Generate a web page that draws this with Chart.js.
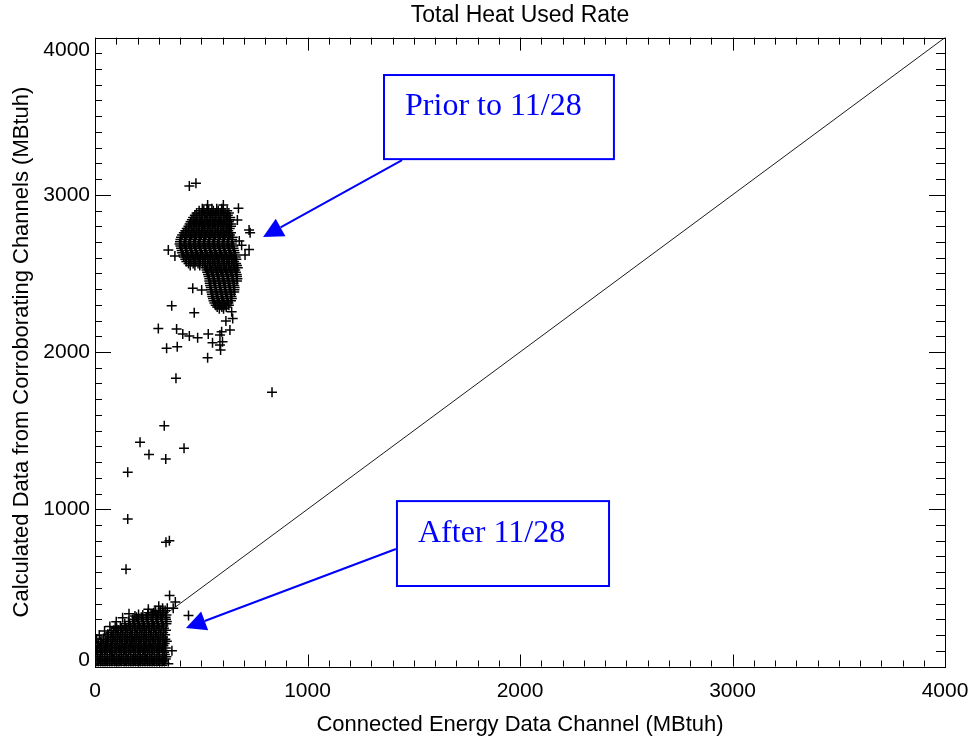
<!DOCTYPE html>
<html>
<head>
<meta charset="utf-8">
<script src="https://cdn.jsdelivr.net/npm/chart.js@4.4.1/dist/chart.umd.min.js"></script>
<style>
html,body{margin:0;padding:0;background:#ffffff;}
#wrap{width:971px;height:736px;position:relative;}
</style>
</head>
<body>
<div id="wrap"><canvas id="c" width="971" height="736"></canvas></div>
<script>
// ---------------- DATA (MBtuh) ----------------
const chartTitle = 'Total Heat Used Rate';
const xTitle = 'Connected Energy Data Channel (MBtuh)';
const yTitle = 'Calculated Data from Corroborating Channels (MBtuh)';
const xTicks = [0, 1000, 2000, 3000, 4000];
const yTicks = [0, 1000, 2000, 3000, 4000];

// dense cluster before 11/28, rows of [y, [x...]]
const priorClusterRows = [
  [2912, [505, 527, 550, 573, 596]],
  [2898, [490, 512, 535, 557, 580, 602, 622]],
  [2884, [478, 500, 522, 545, 567, 590, 612, 630]],
  [2870, [470, 492, 515, 537, 560, 582, 605, 625]],
  [2856, [462, 484, 507, 529, 552, 574, 597, 619, 636]],
  [2842, [456, 478, 500, 523, 545, 568, 590, 612, 633]],
  [2828, [450, 473, 495, 517, 540, 562, 585, 607, 630]],
  [2814, [445, 467, 490, 512, 535, 557, 580, 602, 625, 642]],
  [2800, [440, 462, 485, 507, 530, 552, 575, 597, 620, 640]],
  [2786, [432, 455, 477, 500, 522, 545, 567, 590, 612, 634]],
  [2772, [425, 447, 470, 492, 515, 537, 560, 582, 605, 627]],
  [2758, [418, 440, 462, 485, 507, 530, 552, 575, 597, 620, 640]],
  [2744, [410, 432, 455, 477, 500, 522, 545, 567, 590, 612, 635]],
  [2730, [405, 428, 450, 473, 495, 518, 540, 563, 585, 608, 630, 648]],
  [2716, [402, 425, 447, 470, 492, 515, 537, 560, 582, 605, 627, 645]],
  [2702, [400, 422, 445, 467, 490, 512, 535, 557, 580, 602, 625, 646]],
  [2688, [398, 420, 442, 465, 487, 510, 532, 555, 577, 600, 622, 644]],
  [2674, [402, 425, 447, 470, 492, 515, 537, 560, 582, 605, 627, 650]],
  [2660, [405, 427, 450, 472, 495, 517, 540, 562, 585, 607, 630, 652]],
  [2646, [408, 430, 453, 475, 498, 520, 543, 565, 588, 610, 633, 655]],
  [2632, [410, 432, 455, 477, 500, 522, 545, 567, 590, 612, 635, 657]],
  [2618, [415, 437, 460, 482, 505, 527, 550, 572, 595, 617, 640, 660]],
  [2604, [418, 440, 463, 485, 508, 530, 553, 575, 598, 620, 643, 662]],
  [2590, [425, 447, 470, 492, 515, 537, 560, 582, 605, 627, 650, 665]],
  [2576, [430, 452, 475, 497, 520, 542, 565, 587, 610, 632, 655]],
  [2563, [440, 462, 485, 507, 530, 552, 575, 597, 620, 642, 664]],
  [2550, [448, 470, 493, 515, 538, 560, 583, 605, 628, 650, 668]],
  [2536, [520, 542, 565, 587, 610, 632, 655, 672]],
  [2522, [525, 547, 570, 592, 615, 637, 660]],
  [2508, [528, 550, 573, 595, 618, 640, 663]],
  [2494, [532, 555, 577, 600, 622, 645, 667]],
  [2480, [535, 557, 580, 602, 625, 647, 668]],
  [2466, [538, 560, 583, 605, 628, 650, 670]],
  [2452, [538, 560, 583, 605, 628, 650, 668]],
  [2438, [540, 563, 585, 608, 630, 652]],
  [2424, [542, 565, 587, 610, 632, 655]],
  [2410, [545, 567, 590, 612, 635, 657]],
  [2396, [546, 568, 591, 613, 636, 656]],
  [2382, [548, 570, 593, 615, 638, 655]],
  [2368, [550, 572, 595, 617, 640]],
  [2354, [552, 575, 597, 620, 642]],
  [2340, [555, 577, 600, 622, 644]],
  [2326, [558, 580, 603, 625, 640]],
  [2312, [562, 585, 607, 628]],
  [2298, [568, 590, 612, 630]],
  [2286, [575, 597, 618]],
  [2275, [585, 605]]
];

// scattered points before 11/28 and in transition, [x, y]
const priorOutliers = [
  [444, 3056], [475, 3073], [530, 2935], [604, 2935], [675, 2914], [670, 2840],
  [725, 2776], [730, 2759], [679, 2706], [690, 2680], [725, 2653], [706, 2617],
  [345, 2649], [376, 2611], [460, 2405], [502, 2394], [361, 2295], [467, 2250],
  [643, 2256], [648, 2214], [616, 2197], [635, 2140], [298, 2150], [384, 2146],
  [413, 2115], [444, 2102], [483, 2091], [533, 2115], [588, 2108], [596, 2129],
  [553, 2059], [588, 2045], [600, 2066], [337, 2024], [387, 2034], [591, 2013],
  [530, 1964], [381, 1833], [833, 1745], [326, 1531], [212, 1426], [254, 1349],
  [333, 1320], [419, 1388], [154, 1235], [154, 938], [334, 790], [350, 800],
  [146, 618]
];

// dense cluster after 11/28, rows of [y, [x...]]
const afterClusterRows = [
  [8,   [4, 26, 47, 69, 92, 113, 137, 158, 180, 203, 224, 247, 269, 291, 316]],
  [21,  [15, 37, 58, 80, 103, 124, 147, 169, 191, 213, 235, 258, 280, 304, 327]],
  [35,  [12, 34, 55, 78, 99, 121, 144, 166, 187, 210, 232, 255, 276, 300, 322]],
  [48,  [1, 23, 45, 67, 88, 110, 132, 155, 177, 198, 221, 243, 265, 288, 311, 333]],
  [62,  [3, 25, 46, 70, 91, 114, 135, 157, 181, 202, 225, 246, 268, 292, 318, 336]],
  [76,  [14, 36, 58, 81, 102, 125, 146, 168, 191, 213, 236, 257, 280, 303, 328]],
  [90,  [10, 33, 57, 79, 101, 123, 146, 168, 189, 212, 234, 257, 279, 301, 325]],
  [104, [5, 27, 49, 71, 94, 116, 138, 160, 182, 205, 227, 249, 271, 294, 318]],
  [118, [2, 22, 44, 66, 90, 111, 133, 156, 178, 200, 221, 244, 266, 288, 311, 333]],
  [132, [10, 32, 55, 77, 99, 122, 144, 166, 188, 210, 233, 255, 277, 300, 322]],
  [146, [15, 38, 60, 82, 104, 127, 149, 171, 193, 216, 238, 260, 282, 305, 328]],
  [160, [27, 50, 72, 94, 116, 139, 161, 183, 206, 228, 250, 272, 295, 318, 338]],
  [174, [40, 63, 85, 107, 130, 152, 175, 197, 219, 241, 263, 286, 309, 331]],
  [188, [52, 74, 96, 118, 141, 163, 186, 208, 230, 252, 274, 297, 320]],
  [202, [62, 84, 106, 128, 151, 173, 195, 218, 240, 262, 285, 307, 330]],
  [216, [76, 98, 120, 142, 165, 187, 209, 231, 253, 276, 298, 321]],
  [230, [88, 110, 132, 155, 177, 199, 221, 243, 266, 288, 311, 334]],
  [244, [102, 124, 146, 168, 190, 212, 234, 256, 279, 301, 324]],
  [258, [120, 142, 165, 187, 209, 232, 254, 276, 299, 322]],
  [272, [140, 162, 184, 206, 228, 250, 273, 296, 318, 336]],
  [286, [158, 180, 203, 226, 248, 271, 294, 316, 338]],
  [300, [178, 200, 222, 245, 268, 290, 313, 334]],
  [314, [195, 218, 241, 264, 287, 310, 332]],
  [328, [225, 248, 271, 294, 316, 336]],
  [342, [252, 276, 300, 322]],
  [356, [285, 308, 330]],
  [370, [318, 340]]
];

const afterOutliers = [
  [8, 175], [20, 200], [45, 225], [70, 255], [100, 285], [130, 310], [160, 335],
  [30, 150], [60, 205], [95, 250], [205, 330], [251, 364], [188, 321],
  [283, 352], [300, 383], [351, 452], [378, 410], [368, 370], [440, 325],
  [362, 100], [345, 18]
];

const diagonal = [[0, 0], [4000, 4000]];

// annotations (data units)
const noteLabels = ['Prior to 11/28', 'After 11/28'];
const noteBoxes = [[1360, 3762, 2442, 3227], [1421, 1052, 2419, 512]];
const noteTextAt = [[1459, 3507], [1520, 792]];
const arrowFrom = [[1445, 3221], [1416, 747]];
const arrowTo = [[791, 2731], [428, 245]];

// ---------------- BUILD ----------------
function rowsToPoints(rows) {
  const out = [];
  rows.forEach(r => r[1].forEach(x => out.push({x: x, y: r[0]})));
  return out;
}
function pairsToPoints(p) { return p.map(a => ({x: a[0], y: a[1]})); }

const markerStyle = {
  pointStyle: 'cross', pointRadius: 5, pointHoverRadius: 5,
  borderColor: '#000000', backgroundColor: '#000000', pointBorderWidth: 1.5,
  borderWidth: 1.5, showLine: false
};

const frameTicks = {
  id: 'frameTicks',
  afterDatasetsDraw(chart) {
    const ctx = chart.ctx, a = chart.chartArea;
    const xs = chart.scales.x, ys = chart.scales.y;
    ctx.save();
    ctx.strokeStyle = '#000000';
    ctx.lineWidth = 1;
    ctx.strokeRect(Math.round(a.left) + 0.5, Math.round(a.top) + 0.5,
      Math.round(a.right - a.left), Math.round(a.bottom - a.top));
    ctx.beginPath();
    for (let v = 0; v <= 4000; v += 100) {
      const major = v % 1000 === 0;
      const px = Math.round(xs.getPixelForValue(v)) + 0.5;
      const lb = major ? 12 : 6, lt = major ? 13 : 7;
      ctx.moveTo(px, a.bottom); ctx.lineTo(px, a.bottom - lb);
      ctx.moveTo(px, a.top); ctx.lineTo(px, a.top + lt);
      const py = Math.round(ys.getPixelForValue(v)) + 0.5;
      const ll = major ? 16 : 7, lr = major ? 16 : 9;
      ctx.moveTo(a.left, py); ctx.lineTo(a.left + ll, py);
      ctx.moveTo(a.right, py); ctx.lineTo(a.right - lr, py);
    }
    ctx.stroke();
    ctx.restore();
  }
};

const notes = {
  id: 'notes',
  afterDraw(chart) {
    const ctx = chart.ctx;
    const xs = chart.scales.x, ys = chart.scales.y;
    const X = v => xs.getPixelForValue(v), Y = v => ys.getPixelForValue(v);
    ctx.save();
    ctx.strokeStyle = '#0000ff';
    ctx.lineWidth = 2;
    for (let i = 0; i < noteLabels.length; i++) {
      const b = noteBoxes[i];
      const x1 = X(b[0]), y1 = Y(b[1]), x2 = X(b[2]), y2 = Y(b[3]);
      ctx.fillStyle = '#ffffff';
      ctx.fillRect(x1, y1, x2 - x1, y2 - y1);
      ctx.strokeRect(x1, y1, x2 - x1, y2 - y1);
      ctx.fillStyle = '#0000ff';
      ctx.font = '32px "Liberation Serif", "Times New Roman", serif';
      ctx.textAlign = 'left';
      ctx.textBaseline = 'alphabetic';
      ctx.fillText(noteLabels[i], X(noteTextAt[i][0]), Y(noteTextAt[i][1]));
      // arrow
      const fx = X(arrowFrom[i][0]), fy = Y(arrowFrom[i][1]);
      const tx = X(arrowTo[i][0]), ty = Y(arrowTo[i][1]);
      const ang = Math.atan2(ty - fy, tx - fx);
      const len = 20, hw = 10;
      const bx = tx - len * Math.cos(ang), by = ty - len * Math.sin(ang);
      ctx.beginPath();
      ctx.moveTo(fx, fy); ctx.lineTo(bx, by);
      ctx.stroke();
      ctx.beginPath();
      ctx.moveTo(tx, ty);
      ctx.lineTo(bx + hw * Math.sin(ang), by - hw * Math.cos(ang));
      ctx.lineTo(bx - hw * Math.sin(ang), by + hw * Math.cos(ang));
      ctx.closePath();
      ctx.fill();
    }
    ctx.restore();
  }
};

const sans = '"Liberation Sans", Arial, Helvetica, sans-serif';
const yMax = yTicks[yTicks.length - 1];

new Chart(document.getElementById('c'), {
  type: 'scatter',
  data: {
    datasets: [
      Object.assign({label: 'Prior cluster', data: rowsToPoints(priorClusterRows)}, markerStyle),
      Object.assign({label: 'Prior scattered', data: pairsToPoints(priorOutliers)}, markerStyle),
      Object.assign({label: 'After cluster', data: rowsToPoints(afterClusterRows)}, markerStyle),
      Object.assign({label: 'After scattered', data: pairsToPoints(afterOutliers)}, markerStyle),
      {type: 'line', label: 'y = x', data: pairsToPoints(diagonal), borderColor: '#000000',
       borderWidth: 0.9, pointRadius: 0, showLine: true, fill: false, tension: 0}
    ]
  },
  options: {
    responsive: false,
    animation: false,
    events: [],
    layout: {padding: {left: 0, right: 26, top: 0, bottom: 0}},
    plugins: {
      legend: {display: false},
      tooltip: {enabled: false},
      title: {
        display: true, text: chartTitle, color: '#000000', fullSize: false,
        font: {family: sans, size: 23, weight: 'normal'},
        padding: {top: 2, bottom: 8}
      }
    },
    scales: {
      x: {
        type: 'linear', min: 0, max: 4000,
        afterBuildTicks: s => { s.ticks = xTicks.map(v => ({value: v})); },
        afterFit: s => { s.height = 69.5; s.paddingLeft = 0; s.paddingRight = 0; },
        grid: {display: false, drawTicks: false},
        border: {display: false},
        ticks: {color: '#000000', padding: 12, font: {family: sans, size: 21}, maxRotation: 0,
                callback: v => String(v)},
        title: {display: true, text: xTitle, color: '#000000',
                font: {family: sans, size: 22, lineHeight: 1.0}, padding: {top: 0, bottom: 0}}
      },
      y: {
        type: 'linear', min: 0, max: 4000,
        afterBuildTicks: s => { s.ticks = yTicks.map(v => ({value: v})); },
        afterFit: s => { s.width = 95; s.paddingTop = 0; s.paddingBottom = 0; },
        grid: {display: false, drawTicks: false},
        border: {display: false},
        ticks: {
          color: '#000000', padding: 5,
          font: ctx => {
            const v = ctx.tick ? ctx.tick.value : null;
            const lh = v === 0 ? 13 / 21 : (v === yMax ? 26 / 21 : 1.2);
            return {family: sans, size: 21, lineHeight: lh};
          },
          callback: v => (v === yMax ? ['', String(v)] : (v === 0 ? [String(v), ''] : String(v)))
        },
        title: {display: true, text: yTitle, color: '#000000',
                font: {family: sans, size: 22}, padding: {top: 9, bottom: 0}}
      }
    }
  },
  plugins: [frameTicks, notes]
});
</script>
</body>
</html>
